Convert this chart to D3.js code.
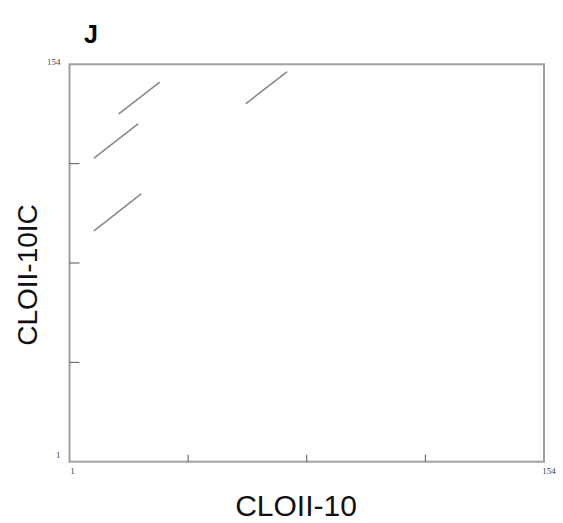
<!DOCTYPE html>
<html><head><meta charset="utf-8">
<script src="https://cdn.jsdelivr.net/npm/d3@7"></script>
<style>body{margin:0;background:#fff}</style>
</head><body>
<svg id="c" width="563" height="523"></svg>
<script>
const panelLabel = "J";
const xTitle = "CLOII-10";
const yTitle = "CLOII-10IC";
const domainMin = 1, domainMax = 154;
const tickLabels = ["1", "154"];
// diagonal segments: [x1, y1, x2, y2] in sequence positions
const segX1 = [17, 9, 9, 58];
const segY1 = [135, 118, 90, 139];
const segX2 = [30, 23, 24, 71];
const segY2 = [147, 131, 104, 151];

const svg = d3.select("#c");
const L = 69.5, R = 544, T = 64.3, B = 461.7;
const x = d3.scaleLinear().domain([domainMin, domainMax]).range([L, R]);
const y = d3.scaleLinear().domain([domainMin, domainMax]).range([B, T]);

// frame
svg.append("rect").attr("x", L).attr("y", T).attr("width", R - L).attr("height", B - T)
  .attr("fill", "none").attr("stroke", "#a0a0a0").attr("stroke-width", 2);

// inner ticks at quarters
const q = [0.25, 0.5, 0.75].map(f => domainMin + f * (domainMax - domainMin));
svg.selectAll(".xt").data(q).enter().append("line")
  .attr("x1", d => x(d)).attr("x2", d => x(d)).attr("y1", B).attr("y2", B - 7)
  .attr("stroke", "#555").attr("stroke-width", 1);
svg.selectAll(".yt").data(q).enter().append("line")
  .attr("y1", d => y(d)).attr("y2", d => y(d)).attr("x1", L).attr("x2", L + 10)
  .attr("stroke", "#555").attr("stroke-width", 1);

// segments
svg.selectAll(".seg").data(segX1.map((d, i) => i)).enter().append("line")
  .attr("x1", i => x(segX1[i])).attr("y1", i => y(segY1[i]))
  .attr("x2", i => x(segX2[i])).attr("y2", i => y(segY2[i]))
  .attr("stroke", "#8a8a8a").attr("stroke-width", 1.6).attr("stroke-linecap", "round");

// tick labels
const tf = "Liberation Serif, serif";
function tl(t, xx, yy, anchor) {
  svg.append("text").attr("x", xx).attr("y", yy).attr("text-anchor", anchor)
    .attr("font-family", tf).attr("font-size", 9).attr("fill", "#445").text(t);
}
tl(tickLabels[1], L - 9, y(domainMax) + 1, "end");
tl(tickLabels[0], L - 9, y(domainMin) - 4, "end");
tl(tickLabels[0], x(domainMin) + 3, B + 12, "middle");
tl(tickLabels[1], x(domainMax) + 5, B + 12, "middle");

// titles
svg.append("text").attr("x", 296).attr("y", 516).attr("text-anchor", "middle")
  .attr("font-family", "Liberation Sans, Arial, sans-serif").attr("font-size", 30).attr("fill", "#111").text(xTitle);
svg.append("text").attr("transform", "translate(37,275) rotate(-90)").attr("text-anchor", "middle")
  .attr("font-family", "Liberation Sans, Arial, sans-serif").attr("font-size", 28).attr("fill", "#111").text(yTitle);
svg.append("text").attr("x", 91).attr("y", 43).attr("text-anchor", "middle")
  .attr("font-family", "Liberation Sans, Arial, sans-serif").attr("font-weight", "bold").attr("font-size", 25).attr("fill", "#000").text(panelLabel);
</script>
</body></html>
